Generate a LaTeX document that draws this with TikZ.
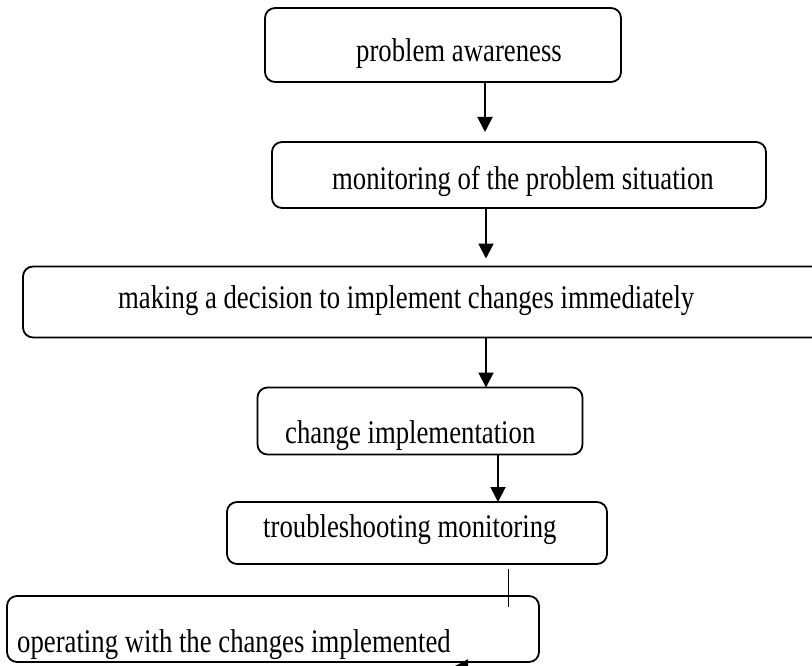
\documentclass[tikz,border=0pt]{standalone}
\usepackage{fontspec}
\setmainfont{Liberation Serif}[FakeStretch=0.81]
\usetikzlibrary{arrows.meta}
\begin{document}
\begin{tikzpicture}[x=1pt,y=-1pt,
  box/.style={draw,line width=1.8pt,rounded corners=10pt,inner sep=0pt,outer sep=0pt},
  lbl/.style={anchor=base west,inner sep=0pt,font=\fontsize{33}{40}\selectfont},
  flow/.style={line width=1.9pt,-{Triangle[width=15pt,length=15pt]}}]
  \useasboundingbox (0,0) rectangle (812,666);
  \clip (0,0) rectangle (812,666);
  \foreach \name/\cx/\cy/\w/\h in {aware/443/45/356/74, monitor/519/175/494/66, decide/427/302/808/71, implement/420/421/325/67, trouble/417/533/380/62, operate/273/629/532/66} {
    \node[box,minimum width=\w pt,minimum height=\h pt] (\name) at (\cx,\cy) {};
  }
  \foreach \name/\x/\y/\txt in {aware/356/62/problem awareness, monitor/332/190/monitoring of the problem situation, decide/118/308/making a decision to implement changes immediately, implement/285/443/change implementation, trouble/263/537/troubleshooting monitoring, operate/17/652/operating with the changes implemented} {
    \node[lbl] (\name-text) at (\x,\y) {\txt};
  }
  \coordinate (a1) at (485,0);
  \coordinate (a2) at (486,0);
  \coordinate (a4) at (498,0);
  \draw[flow,shorten >=10pt] (aware.south -| a1) -- (monitor.north -| a1);
  \draw[flow,shorten >=8pt] (monitor.south -| a2) -- (decide.north -| a2);
  \draw[flow] (decide.south -| a2) -- (implement.north -| a2);
  \draw[flow] (implement.south -| a4) -- (trouble.north -| a4);
  \coordinate (cut-top) at (508,569);
  \coordinate (cut-bot) at (508,607);
  \draw[line width=0.8pt] (cut-top) -- (cut-bot);
  \coordinate (tail) at (505,667);
  \coordinate (head) at (453,667);
  \draw[flow] (tail) -- (head);
\end{tikzpicture}
\end{document}
